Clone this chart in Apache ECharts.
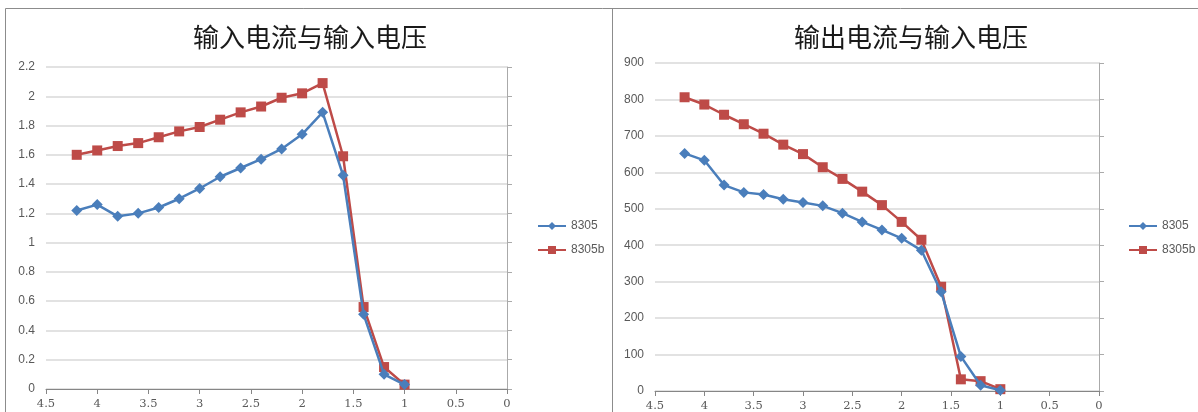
<!DOCTYPE html>
<html>
<head>
<meta charset="utf-8">
<script src="https://cdn.jsdelivr.net/npm/echarts@6/dist/echarts.min.js"></script>
<style>
html,body{margin:0;padding:0;background:#fff;}
#c{width:1198px;height:412px;}
</style>
</head>
<body>
<div id="c"></div>
<script>
// ---- data ----
const inputVoltage = [4.2, 4.0, 3.8, 3.6, 3.4, 3.2, 3.0, 2.8, 2.6, 2.4, 2.2, 2.0, 1.8, 1.6, 1.4, 1.2, 1.0];
const inCurrent8305  = [1.22, 1.26, 1.18, 1.20, 1.24, 1.30, 1.37, 1.45, 1.51, 1.57, 1.64, 1.74, 1.89, 1.46, 0.51, 0.10, 0.03];
const inCurrent8305b = [1.60, 1.63, 1.66, 1.68, 1.72, 1.76, 1.79, 1.84, 1.89, 1.93, 1.99, 2.02, 2.09, 1.59, 0.56, 0.15, 0.03];
const outCurrent8305  = [652, 633, 565, 545, 539, 526, 517, 508, 488, 464, 442, 419, 386, 272, 95, 16, 2];
const outCurrent8305b = [806, 786, 758, 732, 706, 676, 650, 614, 582, 547, 510, 464, 415, 286, 32, 27, 5];
const seriesNames = ['8305', '8305b'];
const titles = ['输入电流与输入电压', '输出电流与输入电压'];

// ---- chart ----
const blue = '#4a7ebb', red = '#be4b48';
const pairs = (xs, ys) => xs.map((x, i) => [x, ys[i]]);
const labelColor = '#595959';

function xAxisCfg(gi) {
  return {
    type: 'value', gridIndex: gi, inverse: true, min: 0, max: 4.5, interval: 0.5,
    axisLine: { show: true, lineStyle: { color: '#868686', width: 1 } },
    axisTick: { show: true, length: 5, lineStyle: { color: '#868686' } },
    axisLabel: { color: labelColor, fontFamily: 'DejaVu Serif', fontSize: 11.5, margin: 9 },
    splitLine: { show: false }
  };
}
function yAxisCfg(gi, max, interval, dec) {
  return [{
    type: 'value', gridIndex: gi, min: 0, max: max, interval: interval,
    axisLine: { show: false }, axisTick: { show: false },
    axisLabel: { color: labelColor, fontFamily: 'Liberation Sans', fontSize: 12, margin: 11,
      formatter: v => dec ? String(Math.round(v * 10) / 10) : String(v) },
    splitLine: { show: true, lineStyle: { color: '#d9d9d9', width: 1.5 } }
  }, {
    type: 'value', gridIndex: gi, min: 0, max: max, interval: interval, position: 'right',
    axisLine: { show: true, onZero: false, lineStyle: { color: '#aaaaaa', width: 1 } },
    axisTick: { show: true, inside: false, length: 5, lineStyle: { color: '#aaaaaa' } },
    axisLabel: { show: false }, splitLine: { show: false }
  }];
}
function lineSeries(name, gi, yi, data, color, symbol, size) {
  return {
    name: name, type: 'line', xAxisIndex: gi, yAxisIndex: yi, data: data,
    symbol: symbol, symbolSize: size, smooth: false,
    lineStyle: { color: color, width: 2.5 },
    itemStyle: { color: color },
    emphasis: { disabled: true }, z: symbol === 'rect' ? 3 : 4
  };
}

const titleStyle = { fontFamily: 'Noto Sans CJK SC', fontSize: 26, fontWeight: 'normal', color: '#1a1a1a' };
const legendStyle = { color: labelColor, fontFamily: 'Liberation Sans', fontSize: 12 };

const chart = echarts.init(document.getElementById('c'), null, { renderer: 'canvas' });
chart.setOption({
  animation: false,
  backgroundColor: '#fff',
  title: [
    { text: titles[0], left: 305, top: 19, textAlign: 'center', textStyle: titleStyle },
    { text: titles[1], left: 906, top: 19, textAlign: 'center', textStyle: titleStyle }
  ],
  legend: [
    { data: seriesNames, orient: 'vertical', left: 532, top: 215, itemWidth: 28, itemHeight: 10, itemGap: 12,
      textStyle: legendStyle, selectedMode: false },
    { data: seriesNames, orient: 'vertical', left: 1123, top: 215, itemWidth: 28, itemHeight: 10, itemGap: 12,
      textStyle: legendStyle, selectedMode: false }
  ],
  grid: [
    { left: 46, top: 67, width: 461, height: 322 },
    { left: 655, top: 63, width: 444, height: 328 }
  ],
  xAxis: [xAxisCfg(0), xAxisCfg(1)],
  yAxis: [...yAxisCfg(0, 2.2, 0.2, true), ...yAxisCfg(1, 900, 100, false)],
  series: [
    lineSeries(seriesNames[0], 0, 0, pairs(inputVoltage, inCurrent8305), blue, 'diamond', 11),
    lineSeries(seriesNames[1], 0, 0, pairs(inputVoltage, inCurrent8305b), red, 'rect', 10),
    lineSeries(seriesNames[0], 1, 2, pairs(inputVoltage, outCurrent8305), blue, 'diamond', 11),
    lineSeries(seriesNames[1], 1, 2, pairs(inputVoltage, outCurrent8305b), red, 'rect', 10)
  ],
  graphic: [
    { type: 'rect', shape: { x: 5.5, y: 8.5, width: 1300, height: 500 },
      style: { fill: null, stroke: '#8c8c8c', lineWidth: 1 }, silent: true },
    { type: 'line', shape: { x1: 612.5, y1: 8, x2: 612.5, y2: 412 },
      style: { stroke: '#8c8c8c', lineWidth: 1 }, silent: true }
  ]
});
</script>
</body>
</html>
